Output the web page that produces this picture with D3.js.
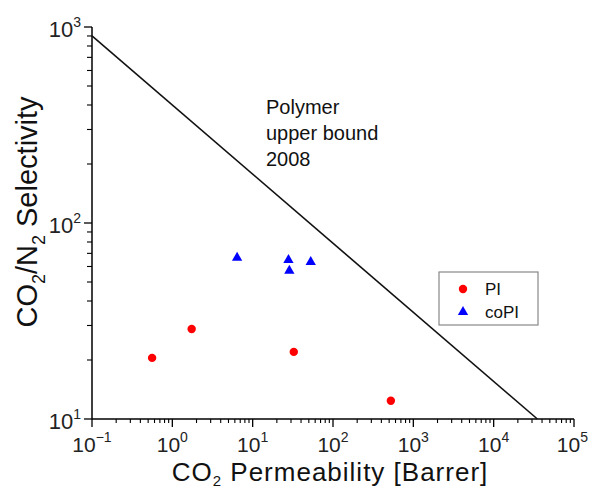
<!DOCTYPE html>
<html><head><meta charset="utf-8">
<script src="https://cdn.jsdelivr.net/npm/d3@7"></script>
<style>body{margin:0;background:#fff}svg{display:block}</style>
</head><body>
<script>
// Data
const piPerm = [0.56, 1.74, 32.5, 525];
const piSel = [20.5, 28.8, 22.0, 12.4];
const copiPerm = [6.4, 27.9, 28.6, 52.8];
const copiSel = [66.5, 64.7, 57.1, 63.2];
const boundPerm = [0.1, 35000];
const boundSel = [900, 10];
const xTickExp = [-1, 0, 1, 2, 3, 4, 5];
const yTickExp = [1, 2, 3];
const seriesNames = ["PI", "coPI"];
const boundLabel = ["Polymer", "upper bound", "2008"];

const W = 590, H = 490;
const FONT = "'Liberation Sans', Arial, sans-serif";
const m = {left: 92, right: 16, top: 27, bottom: 71};
const svg = d3.select("body").append("svg").attr("width", W).attr("height", H)
  .style("font-family", FONT);

const x = d3.scaleLog().domain([0.1, 1e5]).range([m.left, W - m.right]);
const y = d3.scaleLog().domain([10, 1000]).range([H - m.bottom, m.top]);

function minorTicks(dom) {
  const out = [];
  for (let e = Math.log10(dom[0]); e < Math.log10(dom[1]); e++)
    for (let k = 2; k <= 9; k++) out.push(k * Math.pow(10, e));
  return out;
}

// X axis
const gx = svg.append("g").attr("transform", `translate(0,${H - m.bottom})`);
gx.append("line").attr("x1", x(0.1)).attr("x2", x(1e5)).attr("stroke", "#000").attr("stroke-width", 1.5);
gx.selectAll(".mj").data(xTickExp).join("line").attr("x1", d => x(Math.pow(10, d))).attr("x2", d => x(Math.pow(10, d)))
  .attr("y1", 0).attr("y2", 8).attr("stroke", "#000").attr("stroke-width", 1.3);
gx.selectAll(".mn").data(minorTicks(x.domain())).join("line").attr("x1", d => x(d)).attr("x2", d => x(d))
  .attr("y1", 0).attr("y2", 4).attr("stroke", "#000").attr("stroke-width", 1.1);
const xl = gx.selectAll(".lbl").data(xTickExp).join("text")
  .attr("x", (d, i) => i === xTickExp.length - 1 ? W - 2 : x(Math.pow(10, d)))
  .attr("y", 33)
  .attr("text-anchor", (d, i) => i === xTickExp.length - 1 ? "end" : "middle")
  .attr("font-size", 21).attr("fill", "#222");
xl.append("tspan").text("10");
xl.append("tspan").attr("dy", -10).attr("font-size", 14).text(d => d < 0 ? "\u2212" + Math.abs(d) : d);

// Y axis
const gy = svg.append("g").attr("transform", `translate(${m.left},0)`);
gy.append("line").attr("y1", y(10)).attr("y2", y(1000)).attr("stroke", "#000").attr("stroke-width", 1.5);
gy.selectAll(".mj").data(yTickExp).join("line").attr("y1", d => y(Math.pow(10, d))).attr("y2", d => y(Math.pow(10, d)))
  .attr("x1", 0).attr("x2", -8).attr("stroke", "#000").attr("stroke-width", 1.3);
gy.selectAll(".mn").data(minorTicks(y.domain())).join("line").attr("y1", d => y(d)).attr("y2", d => y(d))
  .attr("x1", 0).attr("x2", -5).attr("stroke", "#000").attr("stroke-width", 1.1);
const yl = gy.selectAll(".lbl").data(yTickExp).join("text")
  .attr("x", -11).attr("y", d => y(Math.pow(10, d)) + 10).attr("text-anchor", "end")
  .attr("font-size", 22).attr("fill", "#222");
yl.append("tspan").text("10");
yl.append("tspan").attr("dy", -10).attr("font-size", 14).text(d => d);

// Axis titles
const xt = svg.append("text").attr("x", 330).attr("y", 481).attr("text-anchor", "middle")
  .attr("font-size", 26).attr("letter-spacing", 1).attr("fill", "#111");
xt.append("tspan").text("CO");
xt.append("tspan").attr("dy", 5).attr("font-size", 15).text("2");
xt.append("tspan").attr("dy", -5).text(" Permeability [Barrer]");

const yt = svg.append("text").attr("transform", `translate(37,212) rotate(-90)`).attr("text-anchor", "middle")
  .attr("font-size", 29).attr("fill", "#111");
yt.append("tspan").text("CO");
yt.append("tspan").attr("dy", 8).attr("font-size", 18).text("2");
yt.append("tspan").attr("dy", -8).text("/N");
yt.append("tspan").attr("dy", 8).attr("font-size", 18).text("2");
yt.append("tspan").attr("dy", -8).text(" Selectivity");

// Upper bound line
const lineData = boundPerm.map((p, i) => [p, boundSel[i]]);
svg.append("path").datum(lineData)
  .attr("d", d3.line().x(d => x(d[0])).y(d => y(d[1])))
  .attr("stroke", "#111").attr("stroke-width", 1.6).attr("fill", "none");

svg.append("g").selectAll("text").data(boundLabel).join("text")
  .attr("x", 266).attr("y", (d, i) => 114 + i * 26).attr("font-size", 20).attr("fill", "#111").text(d => d);

// Points
const pi = piPerm.map((p, i) => [p, piSel[i]]);
const copi = copiPerm.map((p, i) => [p, copiSel[i]]);
svg.append("g").selectAll("circle").data(pi).join("circle")
  .attr("cx", d => x(d[0])).attr("cy", d => y(d[1])).attr("r", 4.2).attr("fill", "#ff0000");
const tri = d3.symbol().type(d3.symbolTriangle).size(46);
svg.append("g").selectAll("path").data(copi).join("path")
  .attr("transform", d => `translate(${x(d[0])},${y(d[1])})`).attr("d", tri).attr("fill", "#0000ff");

// Legend
const lg = svg.append("g");
lg.append("rect").attr("x", 439).attr("y", 272).attr("width", 99).attr("height", 53)
  .attr("fill", "#fff").attr("stroke", "#888").attr("stroke-width", 1.2);
lg.append("circle").attr("cx", 463).attr("cy", 289).attr("r", 4.2).attr("fill", "#ff0000");
lg.append("path").attr("transform", "translate(463,312)").attr("d", tri).attr("fill", "#0000ff");
lg.selectAll("text").data(seriesNames).join("text")
  .attr("x", 485).attr("y", (d, i) => 295 + i * 22.5).attr("font-size", 17).attr("fill", "#111").text(d => d);
</script>
</body></html>
